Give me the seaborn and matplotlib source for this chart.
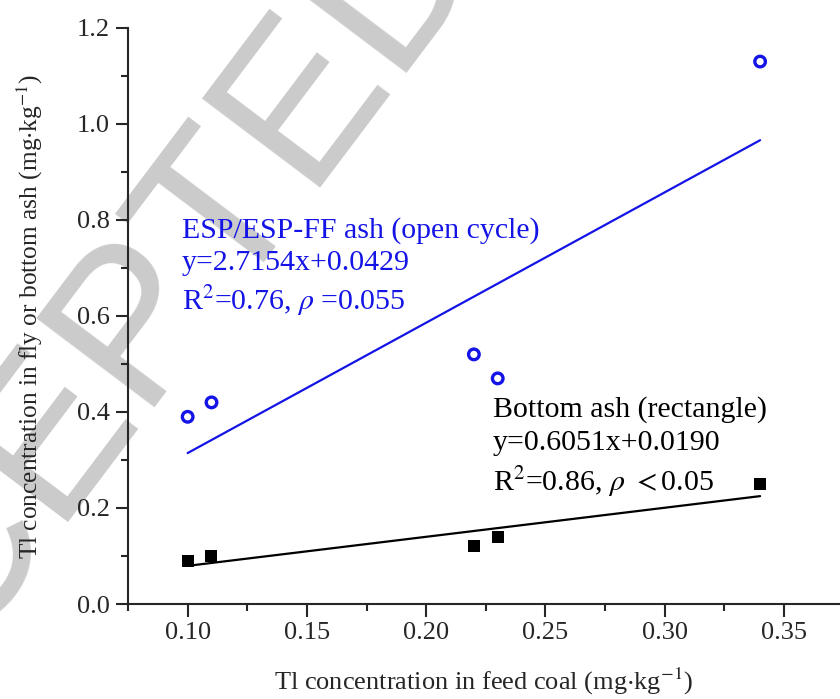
import matplotlib
matplotlib.use("Agg")
import matplotlib.pyplot as plt
from matplotlib.ticker import MultipleLocator
import seaborn as sns
import pandas as pd

# feed coal Tl vs ash Tl (mg/kg)
feed_coal = [0.10, 0.11, 0.22, 0.23, 0.34]
esp_ash = [0.39, 0.42, 0.52, 0.47, 1.13]
bottom_ash = [0.09, 0.10, 0.12, 0.14, 0.25]

esp_label = "ESP/ESP-FF ash (open cycle)\ny=2.7154x+0.0429\nR$^2$=0.76, $\\rho$ =0.055"
bottom_label = "Bottom ash (rectangle)\ny=0.6051x+0.0190\nR$^2$=0.86, $\\rho$ $<$0.05"

sns.set_style("ticks")
plt.rcParams["font.family"] = ["Liberation Serif", "DejaVu Serif"]
plt.rcParams["mathtext.fontset"] = "stix"

df = pd.DataFrame({"coal": feed_coal, "esp": esp_ash, "bottom": bottom_ash})
blue = "#1414e6"

fig = plt.figure(figsize=(8.4, 6.99), dpi=100)
ax = fig.add_axes([0.1524, 0.1359, 0.8476, 0.8241])
ax.patch.set_visible(False)

# watermark
fig.text(0.111, 0.433, "ACCEPTED", fontsize=155, color="#cbcbcb", rotation=53,
         ha="center", va="center", family="Liberation Sans", zorder=-1)

sns.regplot(data=df, x="coal", y="esp", scatter=False, ci=None, truncate=True,
            color=blue, line_kws={"lw": 1.6}, ax=ax)
sns.regplot(data=df, x="coal", y="bottom", scatter=False, ci=None, truncate=True,
            color="black", line_kws={"lw": 1.6}, ax=ax)
sns.scatterplot(data=df, x="coal", y="esp", marker="o", s=58, facecolors="none",
                edgecolor=blue, linewidth=2.4, ax=ax, zorder=4)
sns.scatterplot(data=df, x="coal", y="bottom", marker="s", s=78, color="black",
                edgecolor="black", linewidth=0, ax=ax, zorder=4)

ax.text(0.0975, 0.806, esp_label, color=blue, fontsize=21.5, va="top",
        linespacing=1.3)
ax.text(0.228, 0.434, bottom_label, color="black", fontsize=21.5, va="top",
        linespacing=1.35)

ax.set_xlim(0.075, 0.3735)
ax.set_ylim(0, 1.2)
ax.xaxis.set_major_locator(MultipleLocator(0.05))
ax.xaxis.set_minor_locator(MultipleLocator(0.025))
ax.yaxis.set_major_locator(MultipleLocator(0.2))
ax.yaxis.set_minor_locator(MultipleLocator(0.1))
ax.set_xticks([0.10, 0.15, 0.20, 0.25, 0.30, 0.35])
ax.set_xticklabels(["0.10", "0.15", "0.20", "0.25", "0.30", "0.35"])
ax.set_yticks([0.0, 0.2, 0.4, 0.6, 0.8, 1.0, 1.2])
ax.set_yticklabels(["0.0", "0.2", "0.4", "0.6", "0.8", "1.0", "1.2"])

sns.despine(ax=ax)
for s in ["left", "bottom"]:
    ax.spines[s].set_linewidth(1.5)
ax.tick_params(which="major", length=9, width=1.5, labelsize=19, pad=4)
ax.tick_params(which="minor", length=5, width=1.5)

ax.set_xlabel("Tl concentration in feed coal (mg$\\cdot$kg$^{-1}$)", fontsize=19, labelpad=16)
ax.set_ylabel("Tl concentration in fly or bottom ash (mg$\\cdot$kg$^{-1}$)", fontsize=18.3, labelpad=23)

fig.savefig("out.png", dpi=100)
